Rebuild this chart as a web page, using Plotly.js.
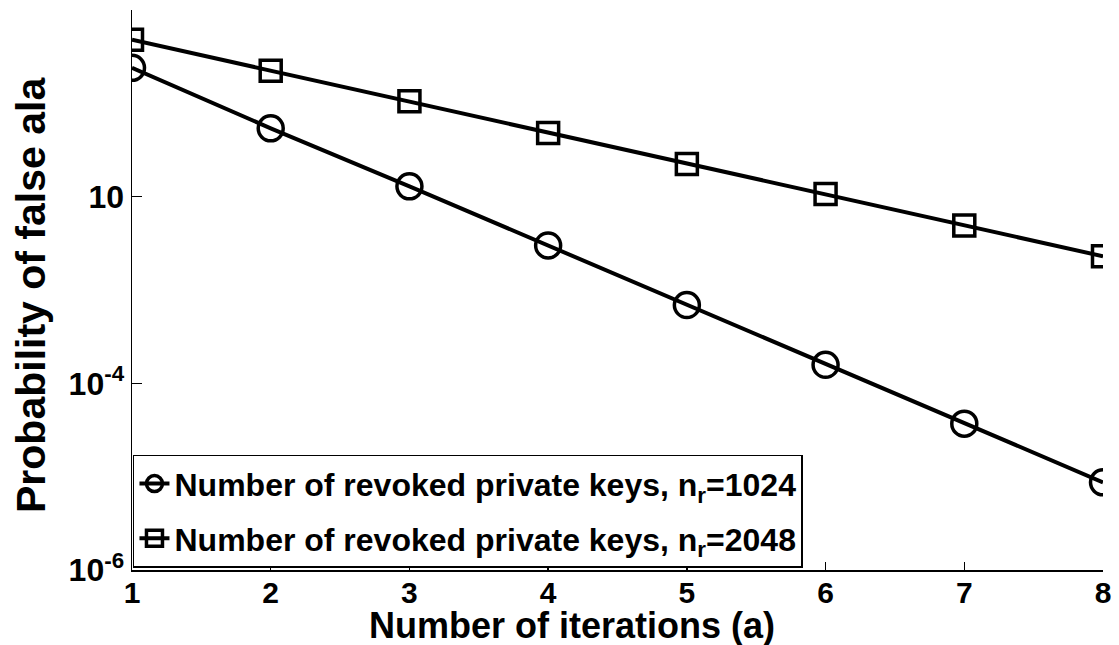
<!DOCTYPE html>
<html>
<head>
<meta charset="utf-8">
<script src="https://cdn.plot.ly/plotly-3.0.1.min.js"></script>
<style>html,body{margin:0;padding:0;background:#fff;}#chart{width:1119px;height:645px;}</style>
</head>
<body>
<div id="chart"></div>
<script>
const iterations = [1, 2, 3, 4, 5, 6, 7, 8];
const prob1024 = [0.24, 0.054, 0.0129, 0.0030, 0.00069, 0.000158, 0.000037, 0.0000087];
const prob2048 = [0.48, 0.224, 0.105, 0.048, 0.0224, 0.0107, 0.0049, 0.0023];
const yTickVals = [1e-6, 1e-4, 1e-2, 1];
const yTickText = ["10<sup>-6</sup>", "10<sup>-4</sup>", "10", ""];
const xTickVals = [1, 2, 3, 4, 5, 6, 7, 8];
const name1024 = "Number of revoked private keys, n<sub>r</sub>=1024";
const name2048 = "Number of revoked private keys, n<sub>r</sub>=2048";
const xTitle = "Number of iterations (a)";
const yTitle = "Probability of false ala";

const fontFam = "Liberation Sans, Arial, sans-serif";

const traces = [
  {
    x: iterations, y: prob1024, name: name1024, mode: "lines+markers", type: "scatter",
    legendgroup: "g1",
    line: {color: "#000", width: 4},
    marker: {symbol: "circle-open", size: 25, color: "#000", line: {width: 3.5, color: "#000"}}
  },
  {
    x: iterations, y: prob2048, name: name2048, mode: "lines+markers", type: "scatter",
    legendgroup: "g2",
    line: {color: "#000", width: 4},
    marker: {symbol: "square-open", size: 21, color: "#000", line: {width: 3.5, color: "#000"}}
  }
];

const layout = {
  width: 1119, height: 645,
  margin: {l: 132, r: 16, t: 10, b: 75},
  paper_bgcolor: "#fff", plot_bgcolor: "#fff",
  font: {family: fontFam, size: 32, color: "#000", weight: "bold"},
  showlegend: true,
  legend: {
    x: 0.001, y: 0.004, xanchor: "left", yanchor: "bottom",
    bgcolor: "#fff", bordercolor: "#000", borderwidth: 1.5,
    font: {family: fontFam, size: 32, color: "#000", weight: "bold"},
    itemwidth: 30, tracegroupgap: 10
  },
  xaxis: {
    range: [1, 8], tickvals: xTickVals, ticks: "inside", ticklen: 8, tickwidth: 1.5,
    tickcolor: "#000", showline: true, linecolor: "#000", linewidth: 1.5,
    showgrid: false, zeroline: false, mirror: false, ticklabelstandoff: -5,
    tickfont: {family: fontFam, size: 30, color: "#000", weight: "bold"}
  },
  yaxis: {
    type: "log", range: [-6, 0], tickvals: yTickVals, ticktext: yTickText,
    ticks: "inside", ticklen: 10, tickwidth: 1.5, tickcolor: "#000",
    showline: true, linecolor: "#000", linewidth: 1.5,
    showgrid: false, zeroline: false, mirror: false,
    tickfont: {family: fontFam, size: 32, color: "#000", weight: "bold"}
  },
  annotations: [
    {text: xTitle, xref: "paper", yref: "paper",
     x: (572 - 132) / 971, y: (570 - 625) / 560, xanchor: "center", yanchor: "middle", showarrow: false,
     font: {family: fontFam, size: 36, color: "#000", weight: "bold"}},
    {text: yTitle, xref: "paper", yref: "paper",
     x: (31 - 132) / 971, y: (570 - 295) / 560, xanchor: "center", yanchor: "middle", showarrow: false,
     textangle: -90,
     font: {family: fontFam, size: 41, color: "#000", weight: "bold"}}
  ]
};

Plotly.newPlot("chart", traces, layout, {displayModeBar: false, staticPlot: true});
</script>
</body>
</html>
